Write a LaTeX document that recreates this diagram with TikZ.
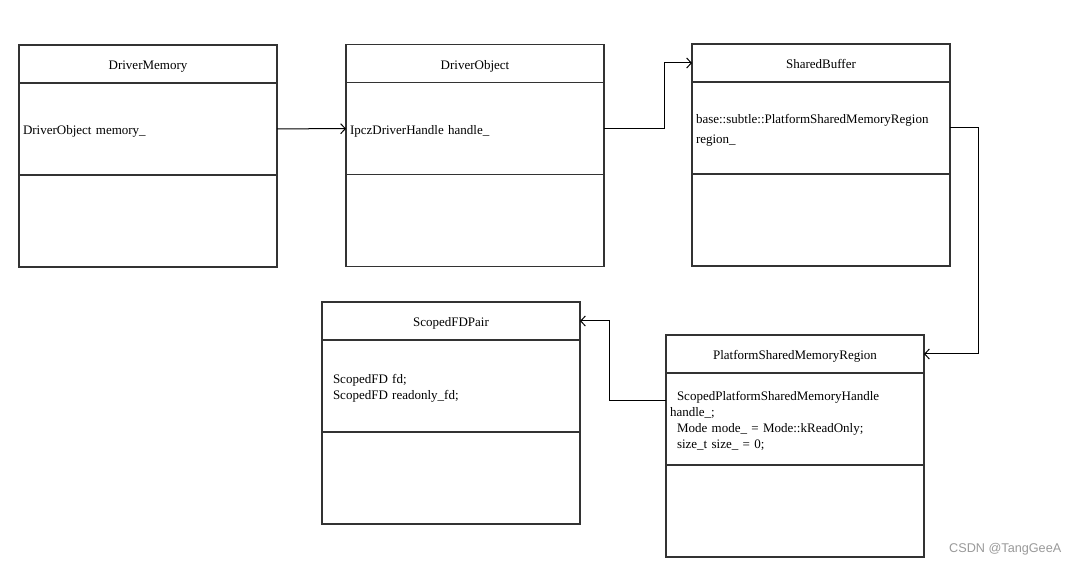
\documentclass[tikz,border=0pt]{standalone}
\usepackage{fontspec}
\setmainfont{Liberation Serif}
\newfontfamily\wmfont{Liberation Sans}
\usetikzlibrary{positioning,arrows.meta}
\newcommand{\ind}{\hspace*{5.25pt}}

\begin{document}
\begin{tikzpicture}[x=0.75pt,y=-0.75pt,
        arrow/.style = {line width=0.75pt,-{Straight Barb[length=3.5pt,width=7.5pt]}},
        head/.style = {draw=black!80,line width=0.9pt,minimum width=193.5pt,minimum height=28.5pt,
                       inner sep=0pt,outer sep=0pt,text height=9pt,text depth=0pt,
                       font=\fontsize{9.75}{12}\selectfont},
        part/.style = {draw=black!80,line width=0.9pt,minimum height=69pt,text width=187.5pt,
                       inner xsep=3pt,inner ysep=0pt,outer sep=0pt,align=left,text height=10.4pt,
                       font=\fontsize{9.75}{12}\selectfont}]
                \useasboundingbox (0,0) rectangle (1079,566);

                % DriverMemory
                \node[head] (mem) at (148,64) {DriverMemory};
                \node[part, below=0pt of mem] (memf) {DriverObject memory\_};
                \node[part, below=0pt of memf] (memm) {};

                % DriverObject
                \node[head] (obj) at (475,63.5) {DriverObject};
                \node[part, below=0pt of obj] (objf) {IpczDriverHandle handle\_};
                \node[part, below=0pt of objf] (objm) {};

                % SharedBuffer
                \node[head] (buf) at (821,63) {SharedBuffer};
                \node[part, below=0pt of buf] (buff) {base::subtle::PlatformSharedMemoryRegion\\[2.5pt] region\_};
                \node[part, below=0pt of buff] (bufm) {};

                % ScopedFDPair
                \node[head] (pair) at (451,321) {ScopedFDPair};
                \node[part, below=0pt of pair] (pairf) {\ind ScopedFD fd;\\ \ind ScopedFD readonly\_fd;};
                \node[part, below=0pt of pairf] (pairm) {};

                % PlatformSharedMemoryRegion
                \node[head] (rgn) at (795,354) {PlatformSharedMemoryRegion};
                \node[part, below=0pt of rgn] (rgnf) {\ind ScopedPlatformSharedMemoryHandle\\ handle\_;\\
                    \ind Mode mode\_ = Mode::kReadOnly;\\ \ind size\_t size\_ = 0;};
                \node[part, below=0pt of rgnf] (rgnm) {};

                % links
                \draw[arrow] (memf) -- (objf);
                \draw[arrow] (objf.east) -- ++(60,0) |- (buf.west);
                \draw[arrow] (buff.east) -- ++(28,0) |- (rgn.east);
                \draw[arrow] ([yshift=13.5pt]rgnf.west) -- ++(-57,0) |- (pair.east);

                \node[text=black!40,font=\wmfont\fontsize{9.5}{11}\selectfont,anchor=east] (wm) at (1066,549) {CSDN @TangGeeA};
            \end{tikzpicture}
\end{document}
